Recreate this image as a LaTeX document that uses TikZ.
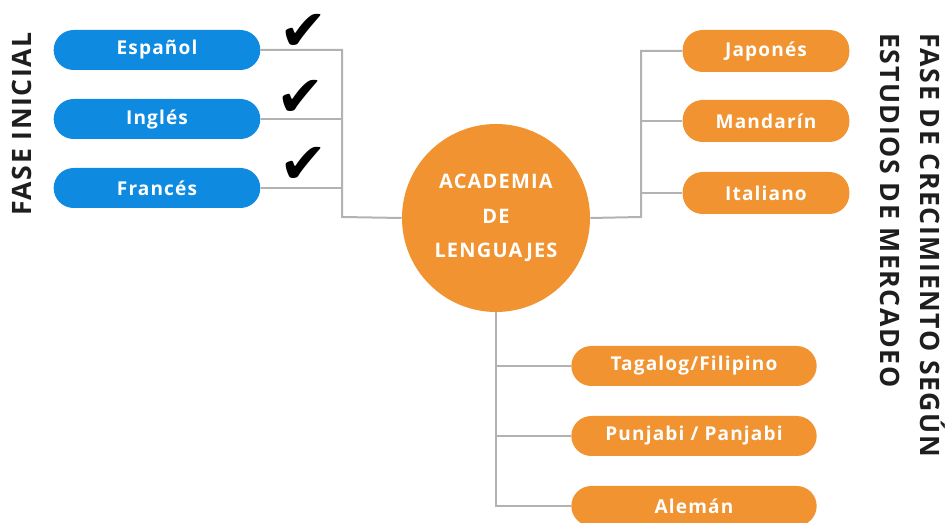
\documentclass[tikz,border=0pt]{standalone}
\usepackage{fontspec}
\setmainfont{Open Sans}
\newfontfamily\boldsans[LetterSpace=6]{Open Sans Bold}
\newfontfamily\titlesans[LetterSpace=6]{Open Sans Bold}
\newfontfamily\symfont{DejaVu Sans}
\usetikzlibrary{positioning,calc}
\definecolor{lblue}{RGB}{14,139,224}
\definecolor{lorange}{RGB}{240,147,48}
\definecolor{lgray}{RGB}{178,178,178}
\definecolor{ltext}{RGB}{30,30,30}

\begin{document}
\begin{tikzpicture}[x=0.75pt,y=-0.75pt,
  pill/.style={rounded corners=15pt,minimum height=30pt,inner sep=0pt,text=white,font=\boldsans\fontsize{14.3}{16}\selectfont},
  bluepill/.style={pill,fill=lblue,minimum width=155pt},
  orapill/.style={pill,fill=lorange,minimum width=125pt,minimum height=31.5pt},
  widepill/.style={pill,fill=lorange,minimum width=184pt},
  hub/.style={circle,fill=lorange,minimum size=141pt,inner sep=0pt,align=center,text=white,font=\boldsans\fontsize{15}{26}\selectfont},
  tick/.style={inner sep=0pt,font=\symfont\fontsize{43}{43}\selectfont},
  phase/.style={inner sep=0pt,text=ltext,align=left,font=\titlesans\fontsize{20}{30}\selectfont},
  link/.style={lgray,line width=1.5pt}]
\useasboundingbox (0,0) rectangle (946,523);
% centre
\node[hub] (acad) at (496,218) {ACADEMIA\\DE\\LENGUAJES};
% first phase
\node[bluepill] (esp) at (157,50) {Español};
\node[bluepill] (ing) at (157,119) {Inglés};
\node[bluepill] (fra) at (157,188) {Francés};
\node[tick] (chk1) at (304,32) {✔};
\node[tick] (chk2) at (301,98) {✔};
\node[tick] (chk3) at (304,165) {✔};
% growth phase
\node[orapill] (jap) at (766,51) {Japonés};
\node[orapill] (man) at (766,121) {Mandarín};
\node[orapill] (ita) at (766,193) {Italiano};
\node[widepill] (tag) at (694,366) {Tagalog/Filipino};
\node[widepill] (pun) at (694,436) {Punjabi / Panjabi};
\node[widepill] (ale) at (694,506) {Alemán};
% side titles
\node[phase,rotate=90] (ini) at (22,124) {FASE INICIAL};
\node[phase,rotate=-90,anchor=north west] (cre) at (946,33) {FASE DE CRECIMIENTO SEGÚN\\ESTUDIOS DE MERCADEO};
% connectors
\coordinate (jl) at (342,217);
\coordinate (jr) at (641,217);
\draw[link] (esp.east) -| (jl) -- (acad.west);
\draw[link] (ing.east) -- (ing.east -| jl);
\draw[link] (fra.east) -- (fra.east -| jl);
\draw[link] (acad.east) -- (jr) |- (jap.west);
\draw[link] (man.west -| jr) -- (man.west);
\draw[link] (ita.west -| jr) -- (ita.west);
\draw[link] (acad.south) |- (ale.west);
\draw[link] (tag.west -| acad.south) -- (tag.west);
\draw[link] (pun.west -| acad.south) -- (pun.west);
\end{tikzpicture}
\end{document}
